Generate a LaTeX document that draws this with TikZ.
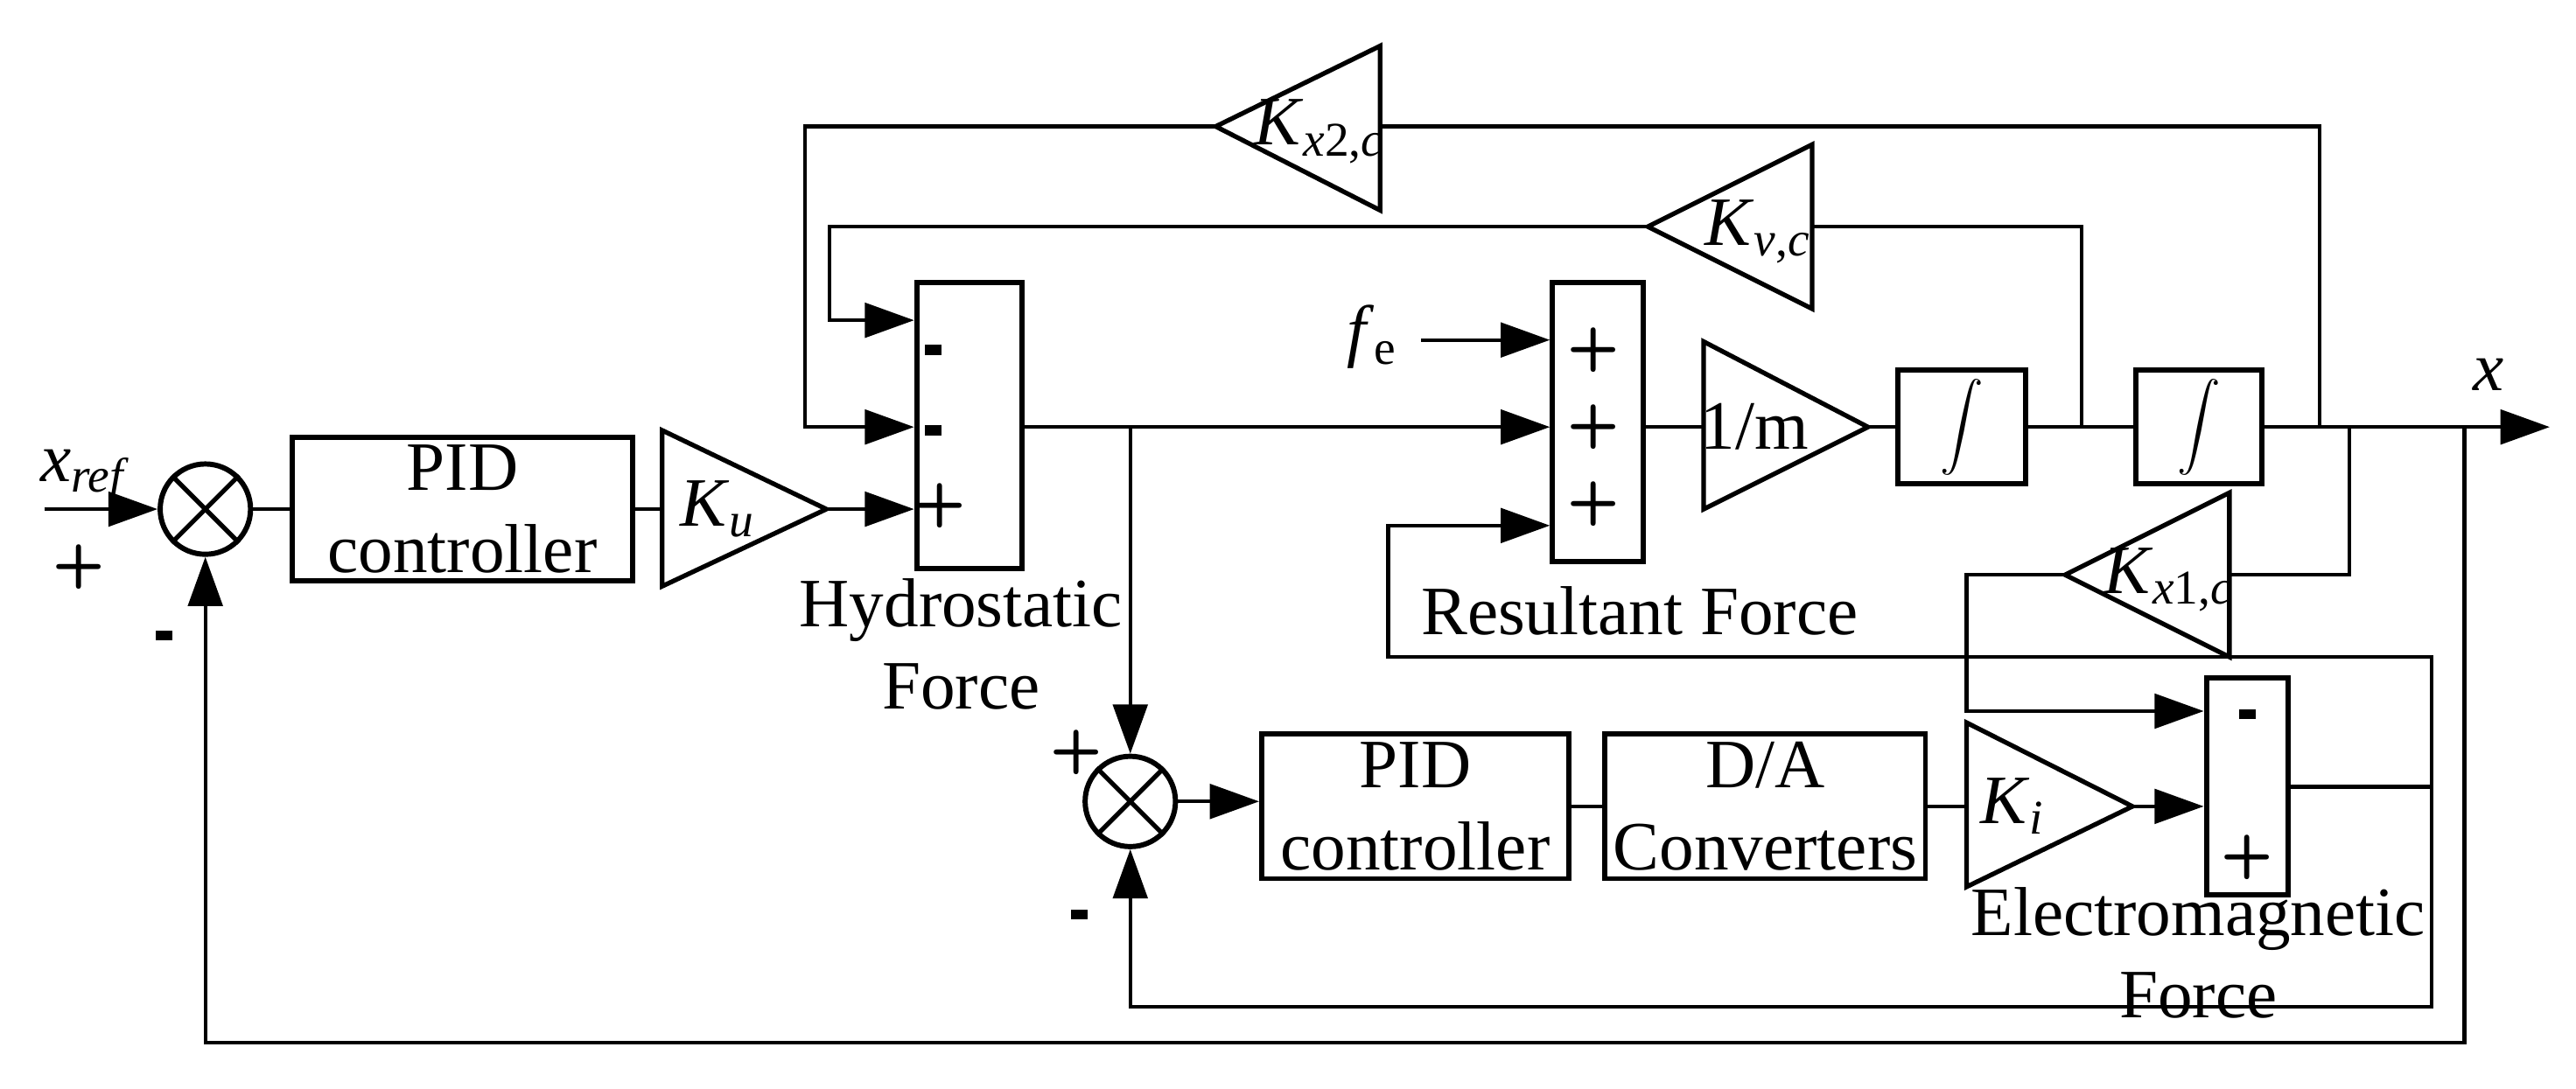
\documentclass[tikz,border=0pt]{standalone}
\usepackage{fontspec}
\usepackage{graphicx}
\setmainfont{Liberation Serif}
\usetikzlibrary{arrows.meta}
\begin{document}
\begin{tikzpicture}[x=0.2mm,y=-0.2mm,
  wire/.style={line width=1.3pt},
  arr/.style={wire,-{Triangle[length=6mm,width=4.2mm]}},
  blk/.style={draw,line width=1.8pt,inner sep=0pt},
  tri/.style={draw,line width=1.6pt,line join=miter},
  lbl/.style={font=\fontsize{24}{28.5}\selectfont,align=center},
  sgn/.style={font=\fontsize{21}{24}\selectfont\bfseries\sffamily},
  mns/.style={inner sep=0pt,fill=black,minimum width=2mm,minimum height=1.2mm},
  sumc/.style={draw,circle,line width=1.8pt,minimum size=11mm,inner sep=0pt}]
\useasboundingbox (0,0) rectangle (1568,663);

% --- summing junctions ---
\node[sumc] (s1) at (125,310) {};
\draw[line width=1.6pt] (s1.north west) -- (s1.south east) (s1.north east) -- (s1.south west);
\node[sumc] (s2) at (688,488) {};
\draw[line width=1.6pt] (s2.north west) -- (s2.south east) (s2.north east) -- (s2.south west);

% --- blocks ---
\node[blk,minimum width=41.4mm,minimum height=17.4mm,lbl] (pid1) at (281.5,310) {PID\\controller};
\node[blk,minimum width=12.8mm,minimum height=34.8mm] (hsum) at (590,259) {};
\node[blk,minimum width=11mm,minimum height=34mm] (rsum) at (972.5,257) {};
\node[blk,minimum width=15.6mm,minimum height=13.8mm,lbl] (int1) at (1194,260) {\scalebox{1.5}{$\displaystyle\int$}};
\node[blk,minimum width=15.4mm,minimum height=13.8mm,lbl] (int2) at (1338.5,260) {\scalebox{1.5}{$\displaystyle\int$}};
\node[blk,minimum width=37.4mm,minimum height=17.6mm,lbl] (pid2) at (861.5,491) {PID\\controller};
\node[blk,minimum width=39mm,minimum height=17.6mm,lbl] (da) at (1074.5,491) {D/A\\Converters};
\node[blk,minimum width=10mm,minimum height=26.4mm] (esum) at (1368,479) {};

% --- gains (triangles) ---
\draw[tri] (403,262) -- (503,310) -- (403,357) -- cycle;
\node[lbl] (ku) at (437,310) {\textit{K}\textsubscript{\textit{u}}};
\coordinate (kuin) at (403,310); \coordinate (kuout) at (503,310);
\draw[tri] (1037,208) -- (1137,260) -- (1037,310) -- cycle;
\node[lbl] (im) at (1068,260) {1/m};
\coordinate (imin) at (1037,260); \coordinate (imout) at (1137,260);
\draw[tri] (1197,440) -- (1298,491) -- (1197,540) -- cycle;
\node[lbl] (ki) at (1225,491) {\textit{K}\textsubscript{\textit{i}}};
\coordinate (kiin) at (1197,491); \coordinate (kiout) at (1298,491);
\draw[tri] (840,28) -- (740,77) -- (840,128) -- cycle;
\node[lbl] (kx2) at (803,80) {\textit{K}\textsubscript{\textit{x}2,\textit{c}}};
\coordinate (kx2in) at (840,77); \coordinate (kx2out) at (740,77);
\draw[tri] (1103,88) -- (1003,138) -- (1103,188) -- cycle;
\node[lbl] (kv) at (1070,141) {\textit{K}\textsubscript{\textit{v},\textit{c}}};
\coordinate (kvin) at (1103,138); \coordinate (kvout) at (1003,138);
\draw[tri] (1357,300) -- (1257,350) -- (1357,400) -- cycle;
\node[lbl] (kx1) at (1320,353) {\textit{K}\textsubscript{\textit{x}1,\textit{c}}};
\coordinate (kx1in) at (1357,350); \coordinate (kx1out) at (1257,350);

% --- labels ---
\node[lbl] (xref) at (52,290) {\textit{x}\textsubscript{\textit{ref}}};
\node[lbl] (fe) at (835,205) {\textit{f}\textsubscript{e}};
\node[lbl] (xo) at (1515,228) {\textit{x}};
\node[lbl] (hl) at (585,392) {Hydrostatic\\Force};
\node[lbl] (rl) at (998,372) {Resultant Force};
\node[lbl] (el) at (1338,580) {Electromagnetic\\Force};

% --- signs ---
\node[sgn] at (48,345) {+};
\node[mns] at (100,387) {};
\node[mns] at (568,213) {};
\node[mns] at (568,262) {};
\node[sgn] at (572,308) {+};
\foreach \yy in {213,260,307} \node[sgn] at (970,\yy) {+};
\node[sgn] at (655,458) {+};
\node[mns] at (657,557) {};
\node[mns] at (1368,435) {};
\node[sgn] at (1368,522) {+};

% --- forward path ---
\coordinate (xin) at (27,310);
\draw[arr] (xin) -- (s1.west);
\draw[wire] (s1.east) -- (pid1.west);
\draw[wire] (pid1.east) -- (kuin);
\draw[arr] (kuout) -- (hsum.west |- kuout);
\coordinate (hout) at (hsum.east |- 0,260);
\coordinate (b1) at (688,260);
\draw[arr] (hout) -- (rsum.west |- hout);
\draw[arr] (b1) -- (s2.north);
\coordinate (fein) at (865,207);
\draw[arr] (fein) -- (rsum.west |- fein);
\draw[wire] (rsum.east |- imin) -- (imin);
\draw[wire] (imout) -- (int1.west);
\draw[wire] (int1.east) -- (int2.west);
\coordinate (xend) at (1552,260);
\draw[arr] (int2.east) -- (xend);

% --- velocity feedback ---
\coordinate (bv) at (1267,260);
\coordinate (lv) at (505,138);
\draw[wire] (bv) |- (kvin);
\draw[arr] (kvout) -- (lv) |- (hsum.west |- 0,195);

% --- position feedback (Kx2) ---
\coordinate (bx2) at (1412,260);
\coordinate (lx2) at (490,77);
\draw[wire] (bx2) |- (kx2in);
\draw[arr] (kx2out) -- (lx2) |- (hsum.west |- 0,260);

% --- Kx1 feedback ---
\coordinate (bx1) at (1430,260);
\coordinate (lx1) at (1197,350);
\draw[wire] (bx1) |- (kx1in);
\draw[arr] (kx1out) -- (lx1) |- (esum.west |- 0,433);

% --- current loop ---
\draw[arr] (s2.east) -- (pid2.west |- s2.east);
\draw[wire] (pid2.east) -- (da.west);
\draw[wire] (da.east) -- (kiin);
\draw[arr] (kiout) -- (esum.west |- kiout);
\coordinate (eo) at (1480,479);
\draw[wire] (esum.east |- eo) -- (eo);
\coordinate (rl1) at (845,400);
\draw[arr] (eo) |- (rl1) |- (rsum.west |- 0,320);
\coordinate (rl2) at (1480,613);
\draw[arr] (eo) -- (rl2) -| (s2.south);

% --- outer loop ---
\coordinate (bo) at (1500,260);
\coordinate (bo2) at (1500,635);
\draw[arr] (bo) -- (bo2) -| (s1.south);
\end{tikzpicture}
\end{document}
